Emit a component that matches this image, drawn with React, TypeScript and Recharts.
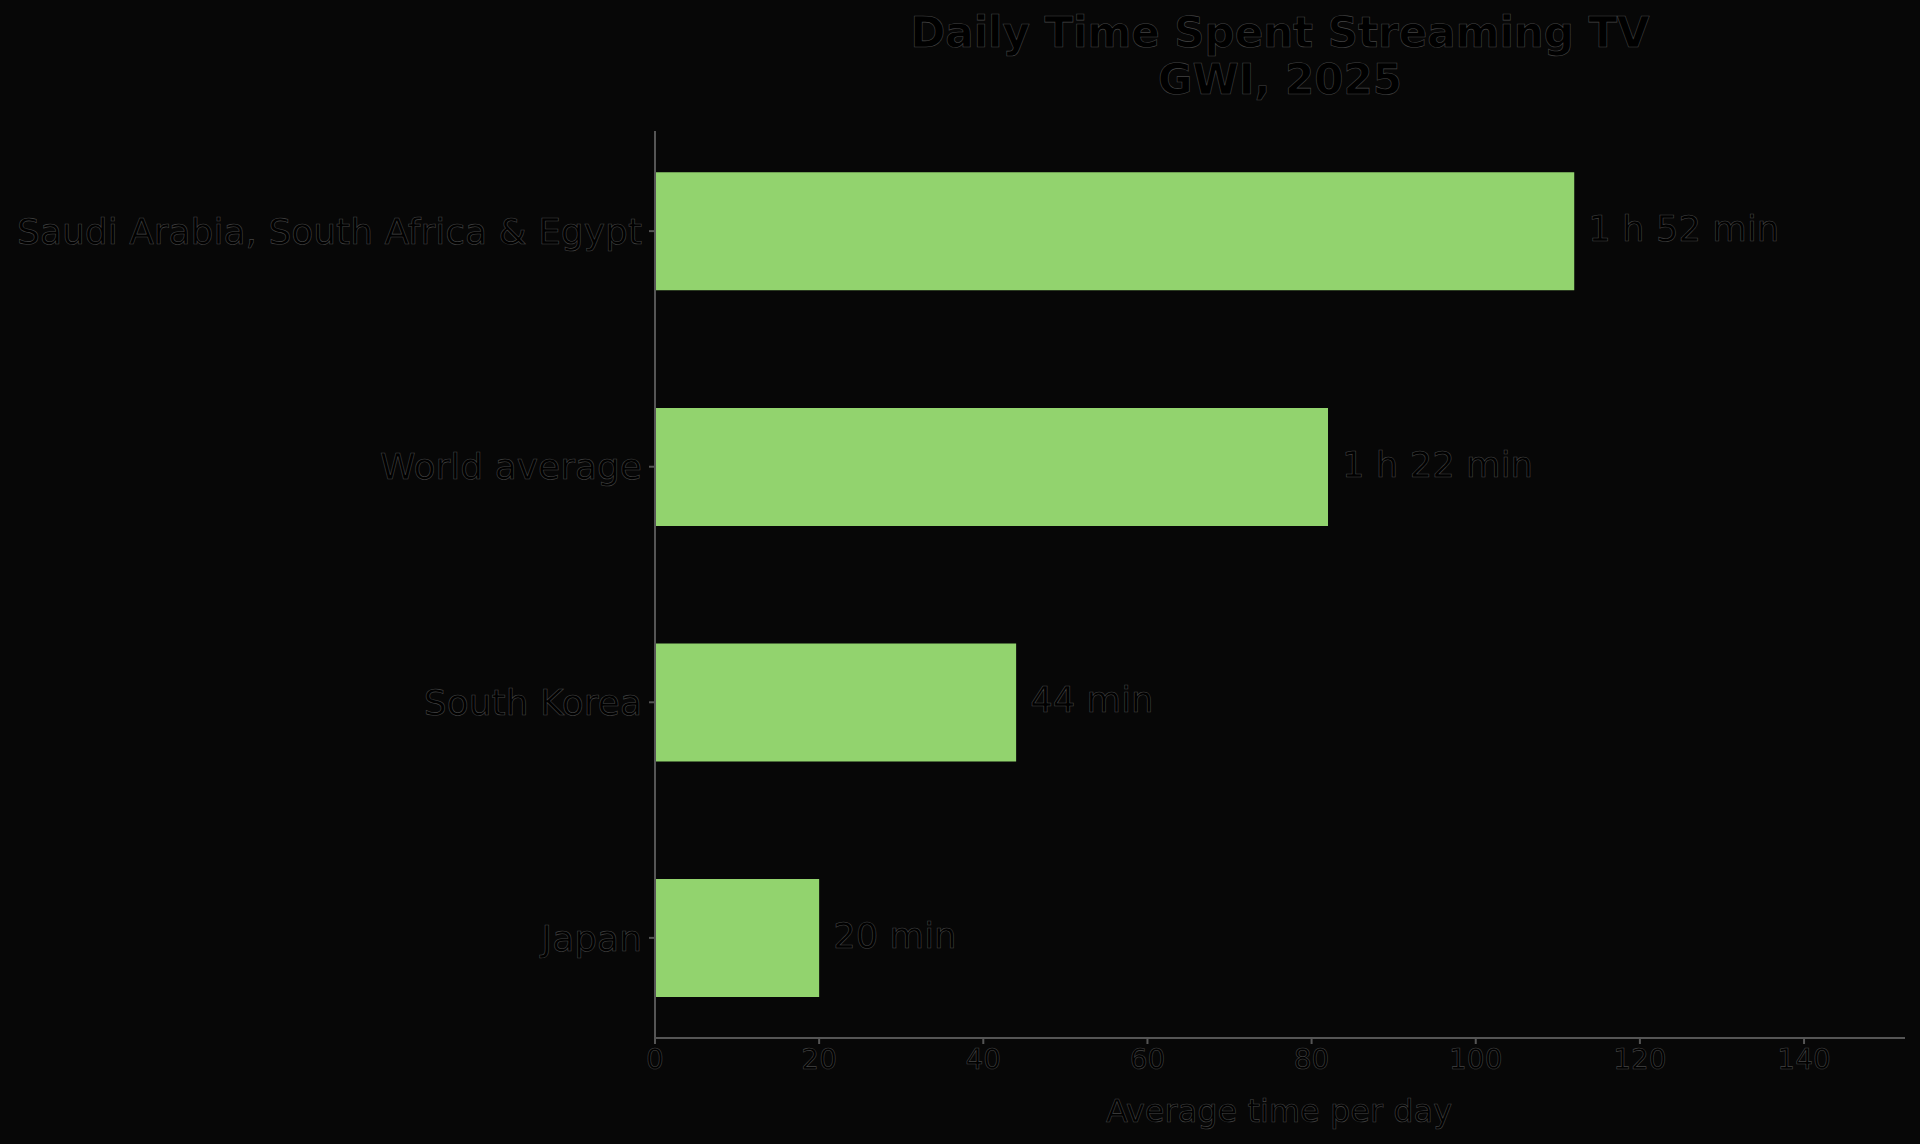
import { Bar, BarChart, LabelList, XAxis, YAxis } from "recharts";

const categories = ["Saudi Arabia, South Africa & Egypt", "World average", "South Korea", "Japan"];
const minutes = [112, 82, 44, 20];
const valueLabels = ["1 h 52 min", "1 h 22 min", "44 min", "20 min"];
const xTicks = [0, 20, 40, 60, 80, 100, 120, 140];
const yTicks = [0, 1, 2, 3];

const chartData = categories.map((name, i) => ({ idx: i, name, minutes: minutes[i] }));

const FONT = "'DejaVu Sans', Verdana, sans-serif";
const BG = "#070707";
const BAR = "#92d36e";
const AXIS = "#555";

// reference is black text on a (transparent ->) black ground, edges show as faint grey outlines
const txt = (size: number, bold = false) => ({
  fontFamily: FONT,
  fontSize: size,
  fontWeight: bold ? 700 : 400,
  fill: "#000",
  stroke: "#444",
  strokeWidth: 0.6,
});

const YTick = (props: any) => {
  const { x, y, payload } = props;
  return (
    <text x={x} y={y} dy="0.355em" textAnchor="end" {...txt(36)}>
      {categories[payload.value]}
    </text>
  );
};

const XTick = (props: any) => {
  const { x, y, payload } = props;
  return (
    <text x={x} y={y} dy="0.71em" textAnchor="middle" {...txt(28)}>
      {payload.value}
    </text>
  );
};

const ValueLabel = (props: any) => {
  const { x, y, width, height, index } = props;
  return (
    <text x={x + width + 14} y={y + height / 2} dy="0.28em" textAnchor="start" {...txt(35.5)}>
      {valueLabels[index]}
    </text>
  );
};

export default function App() {
  return (
    <div style={{ position: "absolute", left: 0, top: 0, width: 1920, height: 1144, background: BG }}>
      <BarChart
        width={1920}
        height={1144}
        data={chartData}
        layout="vertical"
        margin={{ top: 131, right: 15, left: 555, bottom: 46 }}
      >
        <XAxis
          type="number"
          dataKey="minutes"
          domain={[0, 152.3]}
          ticks={xTicks}
          height={60}
          stroke={AXIS}
          strokeWidth={2}
          tickSize={6}
          tickMargin={5}
          tick={XTick}
        />
        <YAxis
          type="number"
          dataKey="idx"
          domain={[-0.425, 3.425]}
          ticks={yTicks}
          allowDecimals={false}
          width={100}
          stroke={AXIS}
          strokeWidth={2}
          tickSize={6}
          tickMargin={7}
          tick={YTick}
        />
        <Bar dataKey="minutes" fill={BAR} barSize={118} isAnimationActive={false}>
          <LabelList dataKey="minutes" content={ValueLabel} />
        </Bar>
      </BarChart>
      <svg
        width={1920}
        height={1144}
        style={{ position: "absolute", left: 0, top: 0, pointerEvents: "none" }}
      >
        <text x={1280} y={47} textAnchor="middle" {...txt(42, true)}>
          Daily Time Spent Streaming TV
        </text>
        <text x={1280} y={94} textAnchor="middle" {...txt(42, true)}>
          GWI, 2025
        </text>
        <text x={1279} y={1122} textAnchor="middle" {...txt(32)}>
          Average time per day
        </text>
      </svg>
    </div>
  );
}
